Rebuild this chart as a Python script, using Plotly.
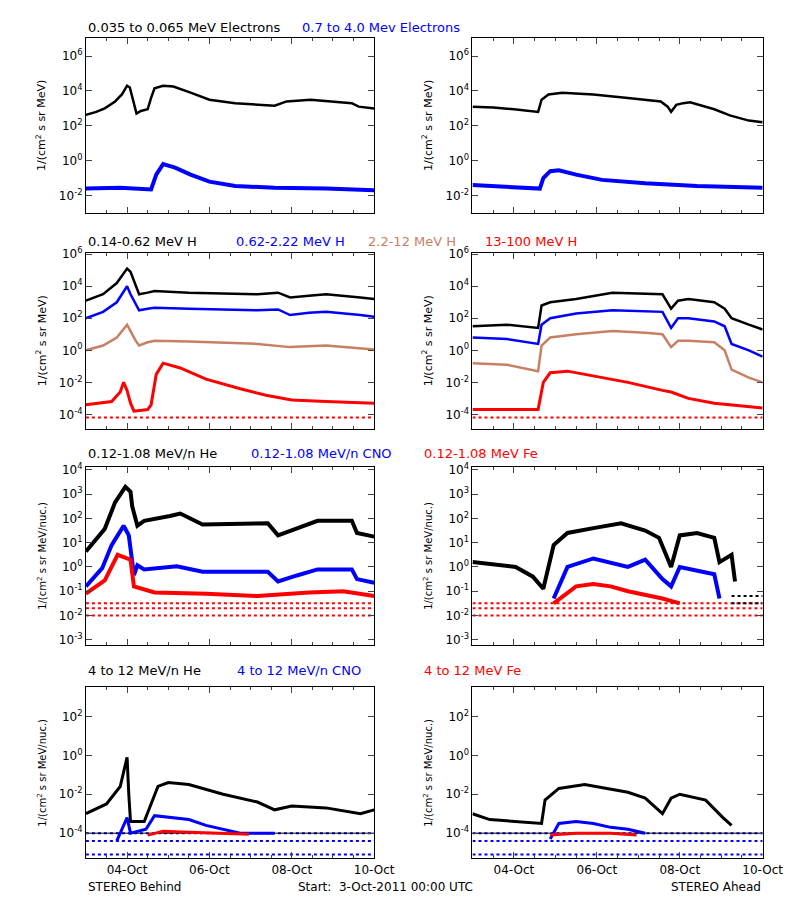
import numpy as np
import plotly.graph_objects as go

# hours since 3-Oct-2011 00:00 UTC, values as log10(flux)
# --- Row 1: electrons ---
b_e_lo_t = [0, 6, 11, 17, 21, 24, 25.6, 27, 29.5, 32, 36, 38, 40, 45, 51, 61, 72, 87, 106, 110, 117, 131, 136, 155, 159, 168]
b_e_lo_v = [2.63, 2.8, 3.0, 3.4, 3.8, 4.3, 4.2, 3.6, 2.7, 2.85, 2.95, 3.6, 4.15, 4.3, 4.25, 3.9, 3.5, 3.3, 3.2, 3.15, 3.4, 3.5, 3.45, 3.3, 3.1, 3.0]
b_e_hi_t = [0, 20, 38, 41, 45, 52, 61, 72, 87, 110, 140, 168]
b_e_hi_v = [-1.6, -1.55, -1.65, -0.8, -0.2, -0.4, -0.8, -1.2, -1.45, -1.55, -1.6, -1.7]
a_e_lo_t = [0, 12, 24, 38, 40, 44, 52, 70, 90, 109, 113, 115, 118, 122, 126, 140, 149, 160, 168]
a_e_lo_v = [3.1, 3.05, 2.95, 2.8, 3.5, 3.8, 3.9, 3.8, 3.6, 3.4, 3.1, 2.8, 3.2, 3.3, 3.35, 2.95, 2.6, 2.3, 2.2]
a_e_hi_t = [0, 20, 39, 41, 45, 50, 60, 75, 100, 130, 168]
a_e_hi_v = [-1.4, -1.5, -1.6, -1.0, -0.6, -0.55, -0.8, -1.1, -1.3, -1.45, -1.55]

# --- Row 2: protons ---
b_h1_t = [0, 10, 18, 22, 24, 26, 29, 31, 36, 40, 60, 100, 112, 119, 130, 140, 160, 168]
b_h1_v = [3.1, 3.5, 4.2, 4.8, 5.1, 4.9, 4.0, 3.5, 3.6, 3.7, 3.6, 3.5, 3.6, 3.3, 3.4, 3.5, 3.3, 3.2]
b_h2_t = [0, 10, 18, 22, 24, 26, 29, 31, 36, 40, 60, 100, 112, 119, 130, 140, 160, 168]
b_h2_v = [2.0, 2.4, 3.0, 3.7, 4.0, 3.5, 2.9, 2.5, 2.6, 2.65, 2.6, 2.5, 2.55, 2.2, 2.35, 2.4, 2.2, 2.1]
b_h3_t = [0, 10, 18, 22, 24, 26, 29, 31, 36, 40, 60, 100, 119, 140, 168]
b_h3_v = [0.0, 0.3, 0.8, 1.3, 1.6, 1.2, 0.6, 0.3, 0.5, 0.6, 0.55, 0.4, 0.2, 0.3, 0.05]
b_h4_t = [0, 15, 20, 22, 24, 26, 28, 36, 38, 41, 45, 55, 70, 90, 105, 120, 140, 168]
b_h4_v = [-3.4, -3.2, -2.6, -2.0, -2.5, -3.3, -3.8, -3.7, -3.4, -1.5, -0.8, -1.1, -1.8, -2.4, -2.8, -3.1, -3.2, -3.3]
a_h1_t = [0, 20, 38, 40, 45, 60, 81, 100, 110, 115, 119, 125, 140, 146, 150, 160, 168]
a_h1_v = [1.5, 1.6, 1.4, 2.8, 3.0, 3.2, 3.6, 3.55, 3.5, 2.6, 3.1, 3.2, 3.0, 2.6, 2.0, 1.6, 1.3]
a_h2_t = [0, 20, 38, 40, 45, 60, 81, 100, 110, 115, 119, 125, 140, 146, 150, 160, 168]
a_h2_v = [0.8, 0.7, 0.4, 1.6, 2.0, 2.3, 2.5, 2.45, 2.4, 1.4, 2.0, 2.0, 1.8, 1.5, 0.4, 0.0, -0.4]
a_h3_t = [0, 20, 38, 40, 45, 60, 81, 100, 110, 115, 119, 125, 140, 146, 150, 160, 168]
a_h3_v = [-0.8, -0.9, -1.3, 0.3, 0.8, 1.0, 1.2, 1.1, 1.0, 0.2, 0.6, 0.6, 0.5, 0.0, -1.2, -1.7, -2.0]
a_h4_t = [0, 20, 38, 41, 45, 55, 70, 90, 110, 115, 125, 140, 168]
a_h4_v = [-3.7, -3.7, -3.7, -2.0, -1.4, -1.3, -1.6, -2.0, -2.5, -2.6, -3.0, -3.3, -3.6]

# --- Row 3: 0.12-1.08 MeV/n ions ---
b_he_t = [0, 11, 17, 23, 26, 27, 30, 34, 49, 55, 68, 106, 112, 123, 135, 155, 158, 168]
b_he_v = [0.64, 1.57, 2.66, 3.3, 3.1, 2.5, 1.7, 1.9, 2.1, 2.2, 1.75, 1.8, 1.3, 1.6, 1.9, 1.9, 1.4, 1.25]
b_cno_t = [0, 9.5, 15, 22, 25, 28, 30, 34, 53, 68, 106, 112, 123, 135, 155, 158, 168]
b_cno_v = [-0.8, -0.05, 0.9, 1.7, 1.3, -0.33, 0.07, -0.1, 0.03, -0.2, -0.2, -0.6, -0.35, -0.1, -0.1, -0.5, -0.65]
b_fe_t = [0, 11, 18.5, 22, 26, 28, 40, 70, 100, 130, 150, 168]
b_fe_v = [-1.1, -0.55, 0.5, 0.4, 0.3, -0.8, -1.05, -1.1, -1.2, -1.05, -1.0, -1.2]
a_he_t = [0, 12, 25, 35, 41, 47, 55, 70, 86, 100, 108, 115, 120, 130, 140, 143, 150, 152]
a_he_v = [0.2, 0.1, 0.0, -0.4, -0.9, 0.9, 1.4, 1.6, 1.8, 1.5, 1.2, 0.0, 1.3, 1.4, 1.2, 0.2, 0.5, -0.6]
a_cno_t = [47, 55, 70, 90, 100, 110, 115, 120, 140, 143]
a_cno_v = [-1.3, 0.0, 0.35, 0.0, 0.3, -0.5, -0.8, 0.0, -0.3, -1.3]
a_fe_t = [47, 60, 70, 80, 90, 110, 120]
a_fe_v = [-1.5, -0.8, -0.7, -0.8, -1.0, -1.3, -1.5]
fe_floor_v = [-1.5, -1.7, -2.0]
a_he_floor_v = [-1.2, -1.5]

# --- Row 4: 4 to 12 MeV/n ions ---
b_he4_t = [0, 12, 20, 23, 24, 25, 26, 34, 38, 42, 48, 60, 80, 100, 110, 120, 140, 160, 168]
b_he4_v = [-3.0, -2.5, -1.6, -0.5, -0.1, -2.0, -3.4, -3.4, -2.5, -1.6, -1.4, -1.5, -2.0, -2.4, -2.8, -2.6, -2.7, -3.0, -2.8]
b_cno4_t = [18, 22, 24, 26, 35, 40, 50, 60, 70, 80, 90, 110]
b_cno4_v = [-4.4, -3.6, -3.2, -4.0, -3.8, -3.1, -3.2, -3.3, -3.6, -3.8, -4.0, -4.0]
b_fe4_t = [36, 45, 60, 80, 95]
b_fe4_v = [-4.1, -3.9, -3.95, -4.0, -4.05]
a_he4_t = [0, 10, 40, 42, 50, 65, 90, 100, 110, 115, 120, 135, 145, 150]
a_he4_v = [-3.0, -3.3, -3.5, -2.3, -1.7, -1.5, -1.9, -2.2, -3.0, -2.2, -2.0, -2.3, -3.2, -3.6]
a_cno4_t = [45, 50, 60, 70, 80, 90, 100]
a_cno4_v = [-4.3, -3.5, -3.4, -3.5, -3.7, -3.8, -4.0]
a_fe4_t = [45, 60, 80, 95]
a_fe4_v = [-4.1, -4.0, -4.0, -4.1]
ion4_floor_v = [-4.0, -4.4, -5.1]

x_ticks = [24, 72, 120, 168]
x_labels = ['04-Oct', '06-Oct', '08-Oct', '10-Oct']

BROWN = '#c88064'
W, H = 800, 900

fig = go.Figure()

rows = [  # top, bottom pixels, y range, tick values
    (23, 200, [-3, 7.05], [-2, 0, 2, 4, 6]),
    (240, 418, [-4.9, 6.1], [-4, -2, 0, 2, 4, 6]),
    (457, 636, [-3.2, 4.1], [-3, -2, -1, 0, 1, 2, 3, 4]),
    (679, 852, [-5.3, 3.5], [-4, -2, 0, 2]),
]
cols = [(80, 376), (477, 775)]
ytitles = ['1/(cm<sup>2</sup> s sr MeV)', '1/(cm<sup>2</sup> s sr MeV)',
           '1/(cm<sup>2</sup> s sr MeV/nuc.)', '1/(cm<sup>2</sup> s sr MeV/nuc.)']
ytitle_sizes = [11, 11, 10, 10]

def add(n, t, v, color, width=2.5, dash='solid'):
    fig.add_trace(go.Scatter(x=t, y=10 ** np.array(v), mode='lines',
                             line=dict(color=color, width=width, dash=dash),
                             xaxis='x' + str(n), yaxis='y' + str(n), showlegend=False))

def floors(n, levels, color, t0=0, t1=168):
    for lv in levels:
        add(n, [t0, t1], [lv, lv], color, 2, 'dot')

for r, (top, bot, yr, tv) in enumerate(rows):
    for c, (lft, rgt) in enumerate(cols):
        n = r * 2 + c + 1
        s = '' if n == 1 else str(n)
        fig.layout['xaxis' + s] = dict(
            domain=[lft / W, rgt / W], range=[0, 168], anchor='y' + s,
            tickvals=x_ticks, ticktext=x_labels if r == 3 else [''] * 4,
            ticks='inside', ticklen=6, mirror='allticks', showline=True,
            linecolor='black', linewidth=1, showgrid=False, zeroline=False,
            minor=dict(dtick=12, tick0=0, ticks='inside', ticklen=3),
            tickfont=dict(size=12))
        fig.layout['yaxis' + s] = dict(
            domain=[1 - bot / H, 1 - top / H], type='log', range=yr, anchor='x' + s,
            tickvals=[10.0 ** k for k in tv],
            ticktext=['10<sup>%d</sup>' % k for k in tv],
            ticks='inside', ticklen=6, mirror='allticks', showline=True,
            linecolor='black', linewidth=1, showgrid=False, zeroline=False,
            title=dict(text=ytitles[r], standoff=10, font=dict(size=ytitle_sizes[r])),
            tickfont=dict(size=12))

# row 1
add(1, b_e_lo_t, b_e_lo_v, 'black')
add(1, b_e_hi_t, b_e_hi_v, 'blue', 4)
add(2, a_e_lo_t, a_e_lo_v, 'black')
add(2, a_e_hi_t, a_e_hi_v, 'blue', 4)
# row 2
add(3, b_h1_t, b_h1_v, 'black')
add(3, b_h2_t, b_h2_v, 'blue')
add(3, b_h3_t, b_h3_v, BROWN)
add(3, b_h4_t, b_h4_v, 'red', 3)
add(4, a_h1_t, a_h1_v, 'black')
add(4, a_h2_t, a_h2_v, 'blue')
add(4, a_h3_t, a_h3_v, BROWN)
add(4, a_h4_t, a_h4_v, 'red', 3)
floors(4, [-4.2], 'red')
floors(3, [-4.2], 'red')
# row 3
floors(5, fe_floor_v, 'red')
add(5, b_he_t, b_he_v, 'black', 4)
add(5, b_cno_t, b_cno_v, 'blue', 4)
add(5, b_fe_t, b_fe_v, 'red', 4)
floors(6, fe_floor_v, 'red')
floors(6, a_he_floor_v, 'black', 150, 168)
add(6, a_he_t, a_he_v, 'black', 4)
add(6, a_cno_t, a_cno_v, 'blue', 4)
add(6, a_fe_t, a_fe_v, 'red', 4)
# row 4
floors(7, ion4_floor_v, 'blue')
add(7, [0, 168], [-4.0, -4.0], 'black', 1)
add(7, b_he4_t, b_he4_v, 'black', 3)
add(7, b_cno4_t, b_cno4_v, 'blue', 3)
add(7, b_fe4_t, b_fe4_v, 'red', 3)
floors(8, ion4_floor_v, 'blue')
add(8, [0, 168], [-4.0, -4.0], 'black', 1)
add(8, a_he4_t, a_he4_v, 'black', 3)
add(8, a_cno4_t, a_cno4_v, 'blue', 3)
add(8, a_fe4_t, a_fe4_v, 'red', 3)

titles = [
    (13, [(80, '0.035 to 0.065 MeV Electrons', 'black'), (300, '0.7 to 4.0 Mev Electrons', 'blue')]),
    (229, [(80, '0.14-0.62 MeV H', 'black'), (232, '0.62-2.22 MeV H', 'blue'),
           (368, '2.2-12 MeV H', BROWN), (488, '13-100 MeV H', 'red')]),
    (443, [(80, '0.12-1.08 MeV/n He', 'black'), (248, '0.12-1.08 MeV/n CNO', 'blue'),
           (425, '0.12-1.08 MeV Fe', 'red')]),
    (662, [(80, '4 to 12 MeV/n He', 'black'), (233, '4 to 12 MeV/n CNO', 'blue'),
           (425, '4 to 12 MeV Fe', 'red')]),
]
for y, items in titles:
    for x, txt, col in items:
        fig.add_annotation(x=x / W, y=1 - y / H, xref='paper', yref='paper', text=txt,
                           showarrow=False, xanchor='left', yanchor='middle',
                           font=dict(color=col, size=13))
for x, txt, anc in [(80, 'STEREO Behind', 'left'), (296, 'Start:  3-Oct-2011 00:00 UTC', 'left'),
                    (775, 'STEREO Ahead', 'right')]:
    fig.add_annotation(x=x / W, y=1 - 881 / H, xref='paper', yref='paper', text=txt,
                       showarrow=False, xanchor=anc, yanchor='middle', font=dict(size=12))

fig.update_layout(width=W, height=H, margin=dict(l=0, r=0, t=0, b=0),
                  paper_bgcolor='white', plot_bgcolor='white',
                  font=dict(family='DejaVu Sans', color='black', size=12))
fig.write_html("out.html")
